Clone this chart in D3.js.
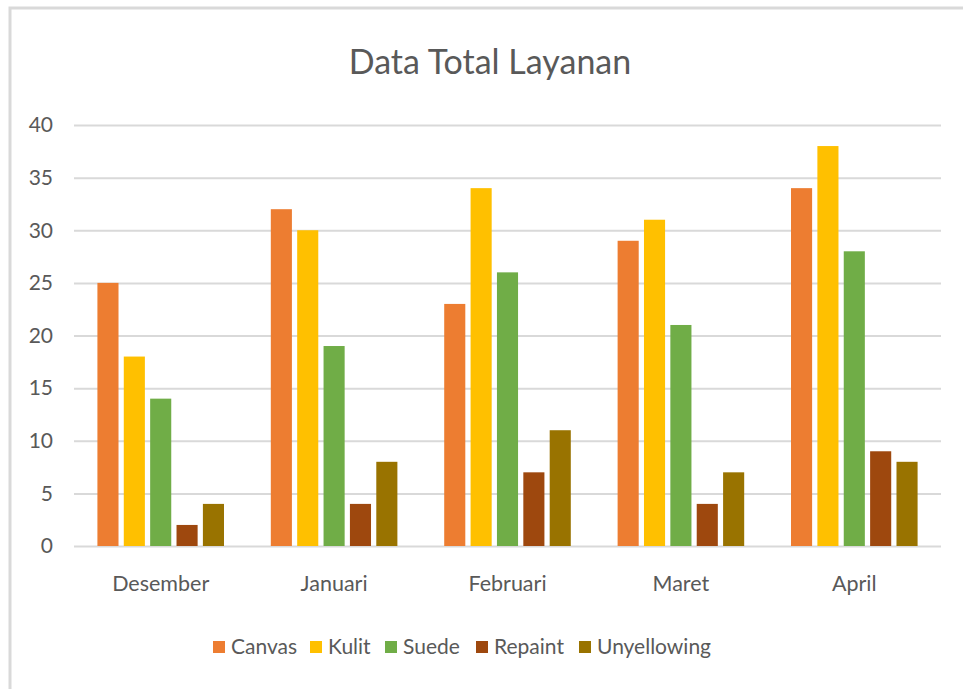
<!DOCTYPE html>
<html>
<head>
<meta charset="utf-8">
<title>Data Total Layanan</title>
<style>
    body { margin: 0; background: #fff; }
    text { font-family: Lato, "Open Sans", sans-serif; fill: #595959; }
    .grid line { stroke: #d9d9d9; stroke-width: 2px; }
    .grid .domain { display: none; }
</style>
</head>
<body>
<svg id="chart" width="963" height="689"></svg>
<script src="https://cdn.jsdelivr.net/npm/d3@7"></script>
<script>
    // data
    let months = ["Desember", "Januari", "Februari", "Maret", "April"]
    let series = ["Canvas", "Kulit", "Suede", "Repaint", "Unyellowing"]
    let colors = ["#ED7D31", "#FFC000", "#70AD47", "#9E480E", "#997300"]
    let canvas = [25, 32, 23, 29, 34]
    let kulit = [18, 30, 34, 31, 38]
    let suede = [14, 19, 26, 21, 28]
    let repaint = [2, 4, 7, 4, 9]
    let unyellowing = [4, 8, 11, 7, 8]
    let yTicks = [0, 5, 10, 15, 20, 25, 30, 35, 40]

    let values = [canvas, kulit, suede, repaint, unyellowing]

    let svg = d3.select("#chart")

    // chart frame
    svg.append("path")
        .attr("d", "M10,690 L10,8 L964,8")
        .attr("fill", "none")
        .attr("stroke", "#d9d9d9")
        .attr("stroke-width", 3)

    svg.append("text")
        .attr("x", 490)
        .attr("y", 74)
        .attr("text-anchor", "middle")
        .style("font-size", "34px")
        .text("Data Total Layanan")

    let plotLeft = 74, plotRight = 941, plotTop = 125, plotBottom = 546

    let x0 = d3.scaleBand()
        .domain(months)
        .range([plotLeft, plotRight])
        .paddingInner(0.27)
        .paddingOuter(0.135)

    let x1 = d3.scaleBand()
        .domain(series)
        .range([0, x0.bandwidth()])
        .paddingInner(0.2)

    let y = d3.scaleLinear()
        .domain([0, 40])
        .range([plotBottom, plotTop])

    // gridlines
    svg.append("g")
        .attr("class", "grid")
        .attr("transform", `translate(${plotLeft},0)`)
        .call(d3.axisLeft(y).tickValues(yTicks).tickSize(-(plotRight - plotLeft)).tickFormat(""))

    // y labels
    svg.append("g")
        .selectAll("text")
        .data(yTicks)
        .join("text")
        .attr("x", 53)
        .attr("y", d => y(d))
        .attr("dy", "0.35em")
        .attr("text-anchor", "end")
        .style("font-size", "21px")
        .text(d => d)

    // bars
    let groups = svg.append("g")
        .selectAll("g")
        .data(months)
        .join("g")
        .attr("transform", d => `translate(${x0(d)},0)`)

    groups.selectAll("rect")
        .data((m, i) => series.map((s, j) => ({ s: s, v: values[j][i], c: colors[j] })))
        .join("rect")
        .attr("x", d => x1(d.s))
        .attr("y", d => y(d.v))
        .attr("width", x1.bandwidth())
        .attr("height", d => y(0) - y(d.v))
        .attr("fill", d => d.c)

    // x labels
    svg.append("g")
        .selectAll("text")
        .data(months)
        .join("text")
        .attr("x", d => x0(d) + x0.bandwidth() / 2)
        .attr("y", 591)
        .attr("text-anchor", "middle")
        .style("font-size", "21.5px")
        .text(d => d)

    // legend
    let legendX = [213, 310, 385, 476, 579]
    let legend = svg.append("g")
        .selectAll("g")
        .data(series)
        .join("g")
        .attr("transform", (d, i) => `translate(${legendX[i]},647)`)

    legend.append("rect")
        .attr("x", 0)
        .attr("y", -6)
        .attr("width", 12)
        .attr("height", 12)
        .attr("fill", (d, i) => colors[i])

    legend.append("text")
        .attr("x", 18)
        .attr("y", 0)
        .attr("dy", "0.35em")
        .style("font-size", "21px")
        .text(d => d)
</script>
</body>
</html>
